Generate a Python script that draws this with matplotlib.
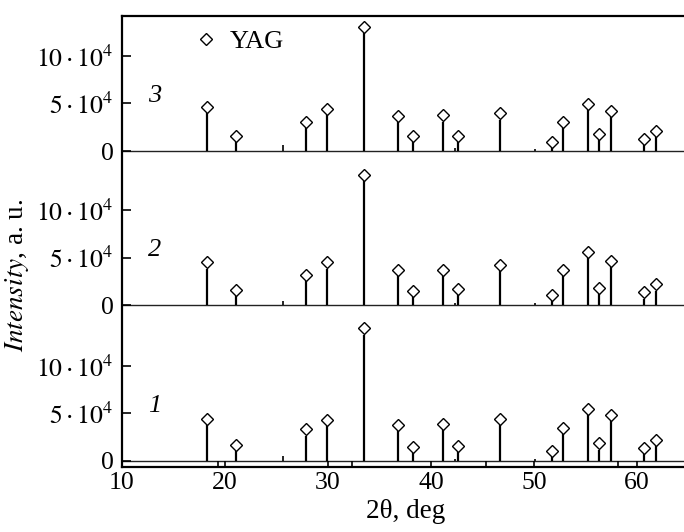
import matplotlib
matplotlib.use("Agg")
import matplotlib.pyplot as plt
from matplotlib.lines import Line2D

plt.rcParams['font.family'] = ['Liberation Serif', 'DejaVu Serif']
plt.rcParams['mathtext.fontset'] = 'stix'

# YAG reflections, 2theta in deg
peak_pos = [18.28, 21.07, 27.9, 29.87, 33.46, 36.76, 38.3, 41.2, 42.65,
            46.7, 51.7, 52.85, 55.2, 56.3, 57.45, 60.7, 61.8]

# peak heights, units of 1e4 counts (curves 1, 2, 3)
h1 = [3.77, 1.03, 2.68, 3.7, 13.3, 3.17, 0.86, 3.28, 0.93,
      3.77, 0.43, 2.86, 4.82, 1.21, 4.19, 0.75, 1.59]
h2 = [3.84, 0.96, 2.54, 3.84, 13.0, 3.03, 0.86, 3.03, 1.03,
      3.59, 0.4, 3.03, 4.96, 1.14, 4.02, 0.68, 1.52]
h3 = [3.98, 0.93, 2.4, 3.74, 12.43, 3.0, 0.93, 3.1, 0.93,
      3.3, 0.35, 2.43, 4.27, 1.14, 3.56, 0.64, 1.45]

# small unmarked features
small_pos = [25.6, 42.3, 50.1]
small1 = [0.5, 0.25, 0.25]
small2 = [0.45, 0.25, 0.2]
small3 = [0.65, 0.35, 0.25]

offsets = [0, 16.42, 32.63]
curve_names = ['1', '2', '3']
ytick_vals = [0, 5, 10]
ytick_text = ['0', r'$5\cdot10^4$', r'$10\cdot10^4$']
xticks = [10, 20, 30, 40, 50, 60]
xminor = [19.3, 32.3, 45.3, 58.2]

fig = plt.figure(figsize=(6.84, 5.32), dpi=100)
ax = fig.add_axes([122/684, 1 - 466.7/532, 566.5/684, 450.7/532])

heights = [h1, h2, h3]
smalls = [small1, small2, small3]
for off, h, sm, name in zip(offsets, heights, smalls, curve_names):
    ax.axhline(off, color='#222222', lw=1.0, zorder=1)
    ax.vlines(peak_pos, off, [off + v for v in h], color='black', lw=1.6, zorder=2)
    ax.vlines(small_pos, off, [off + v for v in sm], color='black', lw=1.2, zorder=2)
    ax.plot(peak_pos, [off + v + 0.65 for v in h], ls='none', marker='D', ms=6.5,
            mfc='white', mec='black', mew=1.0, zorder=3)
    ax.text(13.2, off + 5.8, name, fontsize=19, style='italic', ha='center', va='center')

ax.set_xlim(10, 65)
ax.set_ylim(-0.6, 46.84)

yt = []
yl = []
for off in offsets:
    for v, s in zip(ytick_vals, ytick_text):
        yt.append(off + v)
        yl.append(s)
ax.set_yticks(yt)
ax.set_yticklabels(yl)
ax.set_xticks(xticks)
ax.set_xticks(xminor, minor=True)

ax.tick_params(axis='y', direction='in', length=6.5, width=1.2, labelsize=18.5, pad=6)
ax.tick_params(axis='x', which='both', direction='in', length=4.5, width=1.2,
               labelsize=18.5, pad=4)
for side in ['left', 'bottom', 'top']:
    ax.spines[side].set_linewidth(1.6)
ax.spines['right'].set_visible(False)

ax.set_xlabel(r'2θ, deg', fontsize=19.5)
ax.xaxis.set_label_coords(0.5, -0.072)
ax.set_ylabel(r'$\mathit{Intensity}$, a. u.', fontsize=19.5)
ax.yaxis.set_label_coords(-0.16, 0.425)

yag = Line2D([], [], ls='none', marker='D', ms=6.5, mfc='white', mec='black', mew=1.0)
ax.legend([yag], ['YAG'], loc='center left', bbox_to_anchor=(0.128, 0.944),
          frameon=False, fontsize=19, handlelength=0.9, handletextpad=0.45,
          borderpad=0, borderaxespad=0)

fig.savefig('out.png', dpi=100)
